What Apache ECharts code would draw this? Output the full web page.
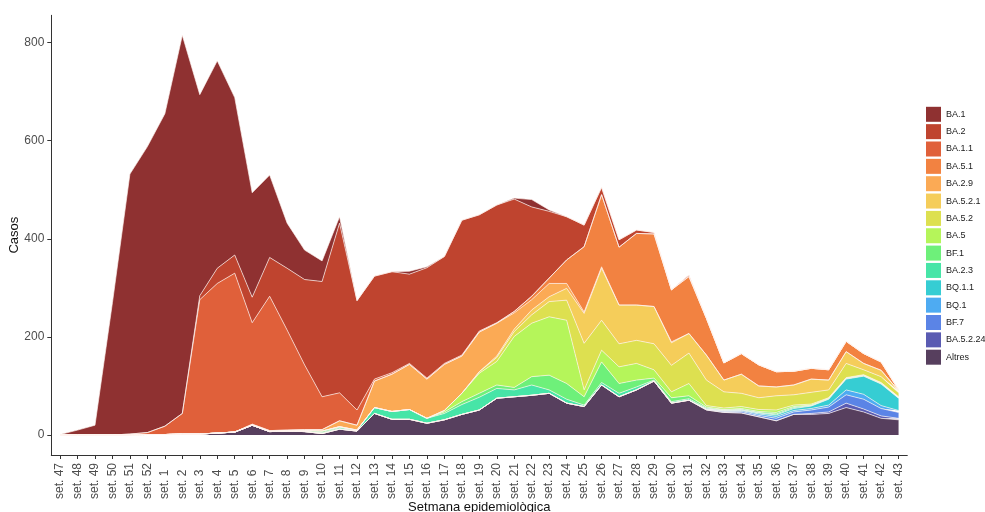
<!DOCTYPE html>
<html><head><meta charset="utf-8">
<script src="https://cdn.jsdelivr.net/npm/echarts@6/dist/echarts.min.js"></script>
<style>html,body{margin:0;padding:0;background:#fff}#c{width:985px;height:512px}</style>
</head><body><div id="c"></div>
<script>
const weeks = ['set. 47','set. 48','set. 49','set. 50','set. 51','set. 52','set. 1','set. 2','set. 3','set. 4','set. 5','set. 6','set. 7','set. 8','set. 9','set. 10','set. 11','set. 12','set. 13','set. 14','set. 15','set. 16','set. 17','set. 18','set. 19','set. 20','set. 21','set. 22','set. 23','set. 24','set. 25','set. 26','set. 27','set. 28','set. 29','set. 30','set. 31','set. 32','set. 33','set. 34','set. 35','set. 36','set. 37','set. 38','set. 39','set. 40','set. 41','set. 42','set. 43'];
const yTicks = [0, 200, 400, 600, 800];

// values per lineage (stacked from bottom: Altres ... BA.1 on top)
const Altres   = [0,0,0,0,0,1,1,2,2,4,6,20,7,8,7,3,12,8,44,32,32,24,31,42,51,75,78,81,85,65,58,102,78,92,110,65,71,51,46,45,37,29,42,42,44,56,47,34,31];
const BA5224   = [0,0,0,0,0,0,0,0,0,0,0,0,0,0,0,0,0,0,0,0,0,0,0,0,0,0,0,0,0,0,0,0,0,0,0,0,0,0,0,0,0,0,0,2,3,9,6,5,3];
const BF7      = [0,0,0,0,0,0,0,0,0,0,0,0,0,0,0,0,0,0,0,0,0,0,0,0,0,0,0,0,0,0,0,0,0,0,0,0,0,1,2,3,3,5,5,7,10,17,20,15,12];
const BQ1      = [0,0,0,0,0,0,0,0,0,0,0,0,0,0,0,0,0,0,0,0,0,0,0,0,0,0,0,0,0,0,0,0,0,0,0,0,0,1,1,2,3,4,3,3,4,10,10,6,4];
const BQ11     = [0,0,0,0,0,0,0,0,0,0,0,0,0,0,0,0,0,0,0,0,0,0,0,0,0,0,0,0,0,0,0,0,0,0,0,0,0,0,1,1,2,3,4,5,12,22,37,44,25];
const BA23     = [0,0,0,0,0,0,0,0,0,0,0,0,0,0,0,2,3,2,12,16,20,10,13,20,26,20,14,21,7,8,3,5,7,6,2,3,3,2,1,1,1,2,2,1,1,1,1,1,1];
const BF1      = [0,0,0,0,0,0,0,0,0,0,0,0,0,0,2,3,2,0,0,0,0,0,3,6,8,7,5,17,30,32,17,42,20,14,4,8,6,2,1,2,2,3,2,1,1,1,1,1,1];
const BA5      = [0,0,0,0,0,0,0,0,0,0,0,0,0,0,0,0,0,0,0,0,0,0,3,17,41,48,104,109,119,129,14,24,34,34,17,12,25,3,3,4,4,5,3,2,1,1,1,1,1];
const BA52     = [0,0,0,0,0,0,0,0,0,0,0,0,0,0,0,0,0,0,0,0,0,0,0,0,3,8,10,17,31,41,95,61,47,47,53,54,62,52,33,27,24,29,21,24,16,29,10,12,8];
const BA521    = [0,0,0,0,0,0,0,0,0,0,0,0,0,0,0,0,0,0,0,0,0,0,0,0,0,3,5,10,10,24,61,106,79,72,76,46,40,51,24,39,24,18,20,27,20,24,13,13,4];
const BA29     = [0,0,0,0,0,0,0,0,0,0,0,2,2,2,2,3,12,10,54,76,92,80,94,76,81,67,33,21,27,10,3,3,0,0,0,2,0,0,0,0,0,0,0,0,0,0,0,0,0];
const BA51     = [0,0,0,0,0,0,0,0,0,0,0,0,0,0,0,0,0,0,0,0,0,0,0,0,0,0,3,7,11,48,133,147,118,146,148,106,116,75,35,42,43,31,28,22,21,21,20,17,2];
const BA11     = [0,0,0,0,2,4,17,42,274,305,324,207,274,204,132,67,57,31,4,3,2,2,2,2,2,1,0,0,0,0,0,0,0,0,0,0,0,0,0,0,0,0,0,0,0,0,0,0,0];
const BA2      = [0,0,0,0,0,0,0,0,8,31,37,52,79,126,174,235,346,223,210,206,182,225,218,275,237,240,229,182,136,88,44,15,15,7,3,0,3,0,0,0,0,0,0,0,0,0,0,0,0];
const BA1      = [1,10,20,270,530,583,637,771,410,423,321,213,168,92,60,42,13,0,0,0,6,2,0,0,0,0,2,15,3,0,0,0,0,0,0,0,0,0,0,0,0,0,0,0,0,0,0,0,0];

const legendOrder = ['BA.1','BA.2','BA.1.1','BA.5.1','BA.2.9','BA.5.2.1','BA.5.2','BA.5','BF.1','BA.2.3','BQ.1.1','BQ.1','BF.7','BA.5.2.24','Altres'];
const stackOrder = [
  ['Altres', Altres, '#573f5e'],
  ['BA.5.2.24', BA5224, '#5a5bb2'],
  ['BF.7', BF7, '#5b84e6'],
  ['BQ.1', BQ1, '#4eabf2'],
  ['BQ.1.1', BQ11, '#36cdd3'],
  ['BA.2.3', BA23, '#47e5a7'],
  ['BF.1', BF1, '#6ef07a'],
  ['BA.5', BA5, '#b5f55a'],
  ['BA.5.2', BA52, '#dde050'],
  ['BA.5.2.1', BA521, '#f5cd5a'],
  ['BA.2.9', BA29, '#fbaa55'],
  ['BA.5.1', BA51, '#f28241'],
  ['BA.1.1', BA11, '#e0603a'],
  ['BA.2', BA2, '#bf442f'],
  ['BA.1', BA1, '#8f3131']
];

const chart = echarts.init(document.getElementById('c'), null, {renderer:'canvas'});
const font = 'Liberation Sans, Arial, sans-serif';
chart.setOption({
  animation: false,
  backgroundColor: '#fff',
  grid: {left: 51.3, right: 77.7, top: 15.3, bottom: 57, containLabel: false, outerBoundsMode: 'none'},
  legend: {
    orient: 'vertical', left: 926, top: 106.8, padding: 0,
    itemWidth: 15, itemHeight: 15, itemGap: 2.35, icon: 'rect',
    data: legendOrder,
    textStyle: {fontSize: 9, color: '#1a1a1a', fontFamily: 'Liberation Sans Narrow, Liberation Sans, Arial, sans-serif'},
    selectedMode: false
  },
  xAxis: {
    type: 'category', data: weeks, boundaryGap: true,
    axisLine: {show: true, onZero: false, lineStyle: {color: '#333', width: 1}},
    axisTick: {show: true, alignWithLabel: true, length: 4, lineStyle: {color: '#333'}},
    axisLabel: {interval: 0, rotate: 90, align: 'left', verticalAlign: 'middle', margin: 44, fontSize: 12, color: '#4d4d4d', fontFamily: font},
    name: 'Setmana epidemiològica', nameLocation: 'middle', nameGap: 46, nameMoveOverlap: false,
    nameTextStyle: {fontSize: 13, color: '#111', fontFamily: font},
    splitLine: {show: false}
  },
  yAxis: {
    type: 'value', min: -40.75, max: 855.75,
    axisLine: {show: true, lineStyle: {color: '#333', width: 1}},
    axisTick: {show: true, length: 4, customValues: yTicks, lineStyle: {color: '#333'}},
    axisLabel: {customValues: yTicks, margin: 7, fontSize: 12, color: '#4d4d4d', fontFamily: font},
    splitLine: {show: false},
    name: 'Casos', nameLocation: 'middle', nameGap: 30, nameRotate: 90, nameMoveOverlap: false,
    nameTextStyle: {fontSize: 13, color: '#111', fontFamily: font}
  },
  series: stackOrder.map(([name, vals, color]) => ({
    name, type: 'line', stack: 'total', data: vals,
    symbol: 'none', smooth: false,
    lineStyle: {color: 'rgba(255,245,240,0.95)', width: 0.7},
    areaStyle: {color: color, opacity: 1},
    itemStyle: {color: color},
    emphasis: {disabled: true}
  }))
});
</script></body></html>
